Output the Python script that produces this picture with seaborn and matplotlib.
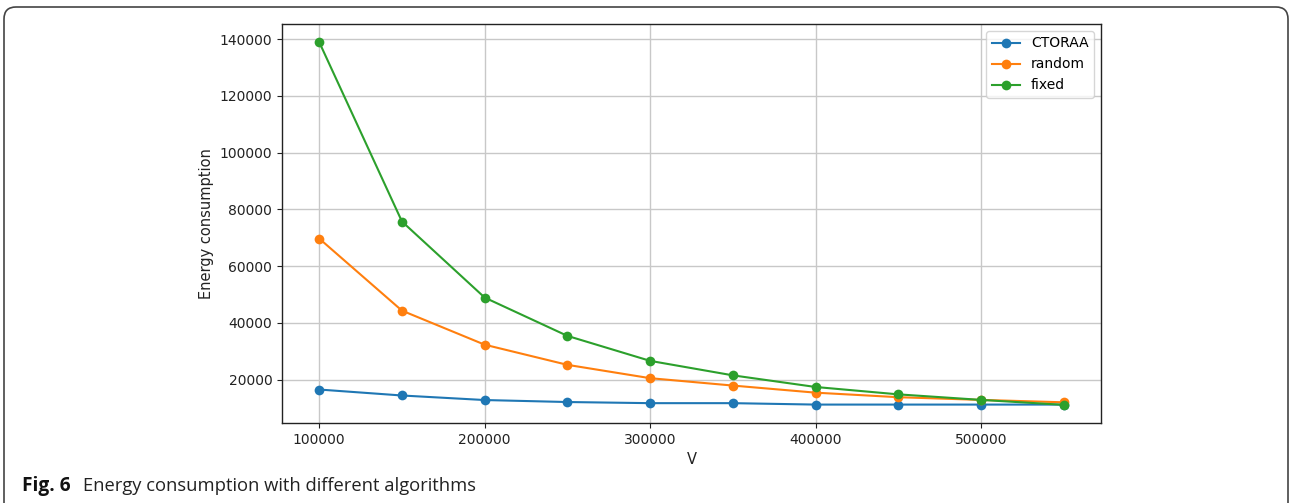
import numpy as np
import pandas as pd
import matplotlib
matplotlib.use("Agg")
import matplotlib.pyplot as plt
from matplotlib.patches import FancyBboxPatch
from matplotlib.transforms import IdentityTransform
import seaborn as sns

V = [100000, 150000, 200000, 250000, 300000, 350000, 400000, 450000, 500000, 550000]
ctoraa = [16500, 14400, 12800, 12100, 11700, 11700, 11200, 11200, 11200, 11200]
random_ = [69700, 44300, 32300, 25200, 20500, 17900, 15400, 13800, 12850, 12000]
fixed = [138900, 75700, 48900, 35400, 26600, 21500, 17400, 14800, 12850, 11100]
series_names = ["CTORAA", "random", "fixed"]
x_ticks = [100000, 200000, 300000, 400000, 500000]
y_ticks = [20000, 40000, 60000, 80000, 100000, 120000, 140000]

df = pd.DataFrame({
    "V": V * 3,
    "value": ctoraa + random_ + fixed,
    "series": sum([[n] * len(V) for n in series_names], []),
})

plt.rcParams["font.family"] = ["DejaVu Sans"]
fig = plt.figure(figsize=(12.9, 5.03), dpi=100)
ax = fig.add_axes([282 / 1290, 1 - 423 / 503, (1101 - 282) / 1290, (423 - 24) / 503])

palette = ["#1f77b4", "#ff7f0e", "#2ca02c"]
sns.lineplot(data=df, x="V", y="value", hue="series", hue_order=series_names,
             palette=palette, marker="o", markersize=7, markeredgewidth=0,
             linewidth=1.5, ax=ax)

ax.set_xticks(x_ticks)
ax.set_yticks(y_ticks)
ax.set_xticklabels([str(t) for t in x_ticks])
ax.set_yticklabels([str(t) for t in y_ticks])
ax.tick_params(labelsize=10, colors="#222222", labelcolor="#222222")
ax.grid(True, color="#c8c8c8", linewidth=1)
ax.set_axisbelow(True)
for s in ax.spines.values():
    s.set_color("#222222")
    s.set_linewidth(1)
ax.set_xlabel("V", fontsize=10.5, color="#222222")
ax.set_ylabel("Energy consumption", fontsize=10.5, color="#222222")
ax.margins(x=0.05, y=0.05)

leg = ax.legend(loc="upper right", fontsize=10, framealpha=0.8)
leg.set_title(None)

# outer rounded frame (bottom clipped)
frame = FancyBboxPatch((4, -40), 1284, 503 - 7 + 40,
                       boxstyle="round,pad=0,rounding_size=12",
                       transform=IdentityTransform(), fill=False,
                       edgecolor="#444444", linewidth=1.2)
fig.patches.append(frame)

fig.text(22 / 1290, 1 - 491 / 503, "Fig. 6", fontsize=13.8, fontweight="bold",
         family=["Open Sans", "DejaVu Sans"], color="#111111", va="baseline")
fig.text(83 / 1290, 1 - 491 / 503, "Energy consumption with different algorithms",
         fontsize=13.2, family=["Open Sans", "DejaVu Sans"], color="#222222", va="baseline")

fig.savefig("out.png", dpi=100)
